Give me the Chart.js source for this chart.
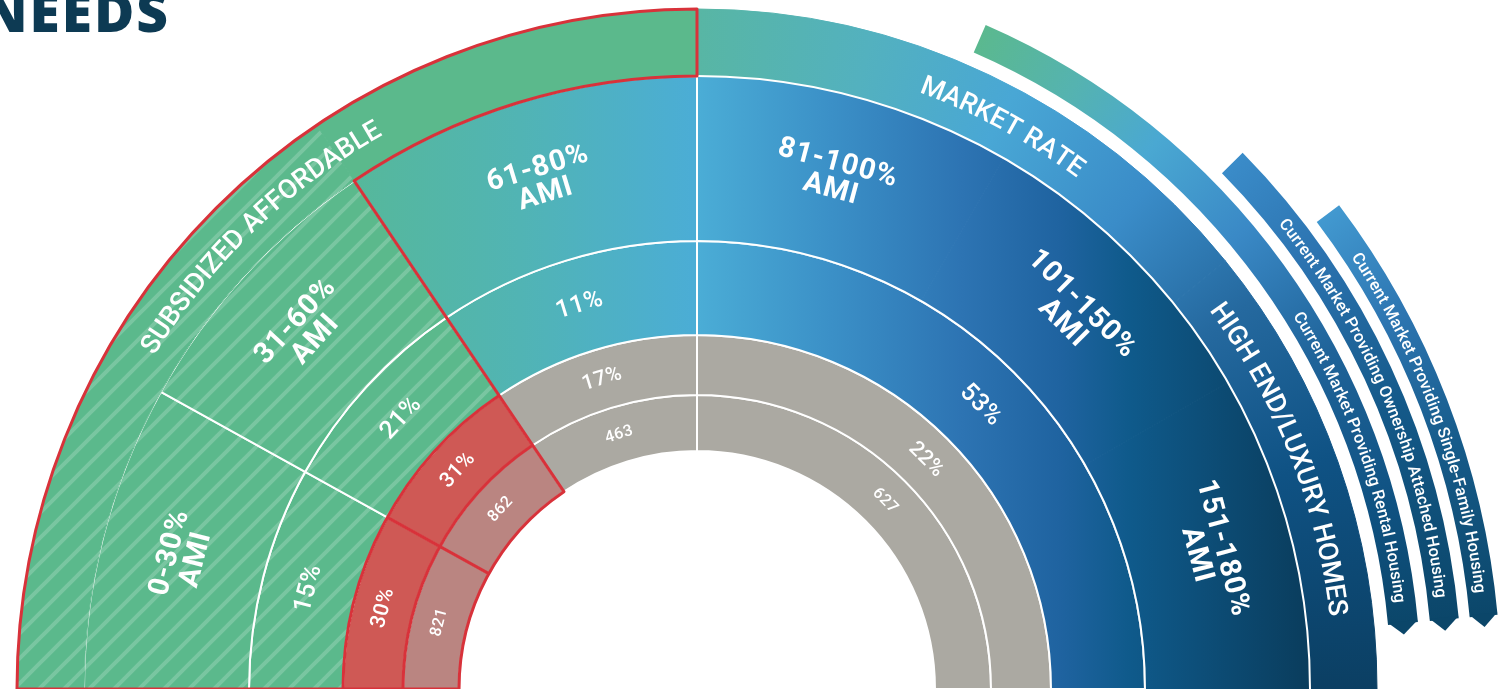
<!DOCTYPE html>
<html lang="en">
<head>
<meta charset="utf-8">
<title>Housing needs</title>
<script src="https://cdn.jsdelivr.net/npm/chart.js@4.4.1/dist/chart.umd.min.js"></script>
<style>
  html, body { margin: 0; padding: 0; background: #ffffff; }
  body { position: relative; width: 1498px; height: 691px; overflow: hidden; }
  #title { position: absolute; right: 1328px; top: -17px; margin: 0; font: 800 55px/55px "Open Sans", sans-serif; letter-spacing: 2px; color: #0d3a53; white-space: nowrap; }
  #wrap { position: absolute; left: -107px; top: -115px; width: 1608px; height: 804px; }
</style>
</head>
<body>
<h1 id="title">NEEDS</h1>
<div id="wrap"><canvas id="myChart" width="1608" height="804"></canvas></div>
<script>
console.log("drawing housing needs chart");
const ctx = document.getElementById("myChart");

// ------------------------------------
//  values
// ------------------------------------
const tierLabels = ["SUBSIDIZED AFFORDABLE", "MARKET RATE", "HIGH END/LUXURY HOMES"];
const amiLabels = ["0-30%\nAMI", "31-60%\nAMI", "61-80%\nAMI", "81-100%\nAMI", "101-150%\nAMI", "151-180%\nAMI"];
const sectorSpan = [29, 27, 34, 90]; // width each income sector is drawn with (of 180)
const amiSpan = [29, 27, 34, 30, 30, 30];
const tierSpan = [56, 34, 51, 39]; // subsidized (hatched, plain), market rate, high end
const needPct = [15, 21, 11, 53];
const gapPct = [30, 31, 17, 22];
const gapUnits = [821, 862, 463, 627];
const productLabels = [
  "Current Market Providing Rental Housing",
  "Current Market Providing Ownership Attached Housing",
  "Current Market Providing Single-Family Housing",
];
const productReach = [61.2, 39.2, 31.7]; // span of each market band (of 180)

// ------------------------------------
//  colours
// ------------------------------------
const GREEN = "#5bb98c";
const RED = "#cf5955";
const PINK = "#ba8581";
const GRAY = "#aba9a2";
const OUTLINE = "#d8323a";
const CLEAR = "rgba(0,0,0,0)";

const acrossStops = [
  [0.077, "#5bb98b"], [0.284, "#56b89a"], [0.39, "#51b4b4"], [0.5, "#4badd6"],
  [0.583, "#3b90c7"], [0.664, "#2d74b3"], [0.726, "#1f63a0"], [0.769, "#0f5a8b"],
  [0.875, "#0a3e5f"], [0.923, "#093554"],
];
const tierStops = [[90, "#58b6a4"], [75, "#53b1bf"], [62, "#49a7d5"], [48, "#3a8cc8"], [35, "#25699f"], [20, "#0f5284"], [0, "#0b3f63"]];
const rentalStops = [[67, "#5bb98d"], [58, "#55b3b0"], [50, "#4aa8d2"], [40, "#3a89c6"], [28, "#1f6399"], [15, "#0f5282"], [5, "#0b4669"]];
const ownershipStops = [[45, "#3b8dca"], [35, "#2c73b0"], [22, "#145989"], [5, "#0b4669"]];
const singleStops = [[37, "#4299d0"], [28, "#2d75b1"], [18, "#165b8a"], [5, "#0b4669"]];

function hub(chart) {
  const a = chart.chartArea;
  const r = Math.min(a.right - a.left, 2 * (a.bottom - a.top)) / 2;
  return { x: (a.left + a.right) / 2, y: (a.top + a.bottom) / 2 + r / 2, r: r };
}

function sweep(chart, stops) {
  if (!chart.chartArea) return stops[0][1];
  const h = hub(chart);
  const g = chart.ctx.createConicGradient(Math.PI, h.x, h.y);
  stops.forEach((s) => g.addColorStop((180 - s[0]) / 360, s[1]));
  return g;
}

function across(chart) {
  if (!chart.chartArea) return "#3b90c7";
  const h = hub(chart);
  const g = chart.ctx.createLinearGradient(h.x - h.r, 0, h.x + h.r, 0);
  acrossStops.forEach((s) => g.addColorStop(s[0], s[1]));
  return g;
}

function makeHatch() {
  const tile = document.createElement("canvas");
  tile.width = 25;
  tile.height = 25;
  const t = tile.getContext("2d");
  t.fillStyle = GREEN;
  t.fillRect(0, 0, 25, 25);
  t.strokeStyle = "rgba(255,255,255,0.19)";
  t.lineWidth = 4;
  t.beginPath();
  t.moveTo(-6, 31); t.lineTo(31, -6);
  t.moveTo(-6, 6); t.lineTo(6, -6);
  t.moveTo(19, 31); t.lineTo(31, 19);
  t.stroke();
  return ctx.getContext("2d").createPattern(tile, "repeat");
}
const hatch = makeHatch();

const END_TRIM = 5.3;
function productSet(i, weight, stops) {
  return {
    label: productLabels[i],
    data: [180 - productReach[i] - END_TRIM, productReach[i], END_TRIM],
    weight: weight,
    backgroundColor: (c) => (c.dataIndex === 1 ? sweep(c.chart, stops) : CLEAR),
    borderWidth: 0,
    hoverBorderWidth: 0,
  };
}
function spacer(weight) {
  return { data: [180], weight: weight, backgroundColor: CLEAR, borderWidth: 0, hoverBorderWidth: 0 };
}

function tierColor(c) {
  if (c.dataIndex === 0) return hatch;
  if (c.dataIndex === 1) return GREEN;
  return sweep(c.chart, tierStops);
}

// ------------------------------------
//  text, arrow tips and outline
// ------------------------------------
function arcText(c, text, cx, cy, r, mid, spacing) {
  const chars = [...text];
  const widths = chars.map((ch) => c.measureText(ch).width);
  const total = widths.reduce((s, w) => s + w, 0) + spacing * (chars.length - 1);
  const capH = parseFloat(c.font.match(/(\d+(\.\d+)?)px/)[1]) * 0.71;
  let a = mid - total / r / 2;
  chars.forEach((ch, i) => {
    const ca = a + widths[i] / 2 / r;
    c.save();
    c.translate(cx + r * Math.cos(ca), cy + r * Math.sin(ca));
    c.rotate(ca + Math.PI / 2);
    c.fillText(ch, 0, capH / 2);
    c.restore();
    a += (widths[i] + spacing) / r;
  });
  return total / r;
}

const ringLabels = {
  id: "ringLabels",
  afterDatasetsDraw(chart, args, opts) {
    const c = chart.ctx;
    const meta = (i) => chart.getDatasetMeta(i).data;
    const tier = meta(6), ami = meta(7), share = meta(9), units = meta(10);
    const cx = ami[0].x, cy = ami[0].y;
    const left = -Math.PI;
    const b1 = ami[0].endAngle, b2 = ami[1].endAngle, b3 = ami[2].endAngle;
    const pt = (a, r) => [cx + r * Math.cos(a), cy + r * Math.sin(a)];
    const deg = Math.PI / 180;

    c.save();
    // arrow tips on the market bands
    [0, 2, 4].forEach((i) => {
      const e = meta(i)[1];
      const rm = (e.innerRadius + e.outerRadius) / 2;
      const a = e.endAngle - 0.003;
      const tip = e.endAngle + 11 / rm;
      c.fillStyle = "#0b4669";
      c.beginPath();
      c.moveTo(...pt(a, e.outerRadius));
      c.lineTo(...pt(tip, rm));
      c.lineTo(...pt(a, e.innerRadius));
      c.closePath();
      c.fill();
    });

    // white seams around the market-rate AMI block
    c.strokeStyle = "#ffffff";
    c.lineWidth = 2;
    c.beginPath();
    c.arc(cx, cy, ami[3].outerRadius, b3, 0);
    c.stroke();
    c.beginPath();
    c.arc(cx, cy, ami[3].innerRadius, b3, 0);
    c.stroke();
    c.beginPath();
    c.moveTo(...pt(b3, ami[3].innerRadius));
    c.lineTo(...pt(b3, ami[3].outerRadius));
    c.stroke();

    // red outline of the subsidized block
    c.strokeStyle = OUTLINE;
    c.lineWidth = 3;
    c.lineJoin = "round";
    c.beginPath();
    c.arc(cx, cy, tier[0].outerRadius, left, b3);
    c.arc(cx, cy, tier[0].innerRadius, b3, b2, true);
    c.arc(cx, cy, units[0].innerRadius, b2, left, true);
    c.closePath();
    c.stroke();
    c.beginPath();
    c.arc(cx, cy, share[0].outerRadius, left, b2);
    c.moveTo(...pt(left, share[0].innerRadius));
    c.arc(cx, cy, share[0].innerRadius, left, b2);
    c.moveTo(...pt(b1, share[0].outerRadius));
    c.lineTo(...pt(b1, units[0].innerRadius));
    c.stroke();

    // straight labels inside the rings
    c.fillStyle = "#ffffff";
    c.textAlign = "center";
    c.textBaseline = "middle";
    [7, 8, 9, 10].forEach((i) => {
      const ds = chart.data.datasets[i];
      c.font = ds.textFont;
      c.letterSpacing = ds.textSpacing || "0px";
      meta(i).forEach((e, j) => {
        const lines = String(ds.texts[j]).split("\n");
        const a = (e.startAngle + e.endAngle) / 2;
        const r = (e.innerRadius + e.outerRadius) / 2;
        c.save();
        c.translate(...pt(a, r));
        c.rotate(a + Math.PI / 2);
        lines.forEach((ln, k) => c.fillText(ln, 0, (k - (lines.length - 1) / 2) * ds.textLine));
        c.restore();
      });
    });
    c.letterSpacing = "0px";

    // curved tier labels
    c.textBaseline = "alphabetic";
    c.font = opts.tierFont;
    const tierR = (tier[0].innerRadius + tier[0].outerRadius) / 2;
    tierLabels.forEach((t, i) => arcText(c, t, cx, cy, tierR, -opts.tierAt[i] * deg, opts.tierSpacing));

    // curved labels on the market bands, set against the arrow end
    c.font = opts.productFont;
    [4, 2, 0].forEach((ds, i) => {
      const e = meta(ds)[1];
      const r = (e.innerRadius + e.outerRadius) / 2;
      const chars = [...productLabels[i]];
      const w = chars.reduce((s, ch) => s + c.measureText(ch).width, 0) + opts.productSpacing * (chars.length - 1);
      const end = e.endAngle - opts.productMargin * deg;
      arcText(c, productLabels[i], cx, cy, r, end - w / r / 2, opts.productSpacing);
    });
    c.restore();
  },
};

new Chart(ctx, {
  type: "doughnut",
  data: {
    labels: amiLabels,
    datasets: [
      productSet(2, 28, singleStops),
      spacer(11),
      productSet(1, 29, ownershipStops),
      spacer(12),
      productSet(0, 30, rentalStops),
      spacer(14),
      {
        label: "tier",
        data: tierSpan,
        weight: 67,
        backgroundColor: tierColor,
        borderColor: tierColor,
        borderWidth: 1,
      },
      {
        label: "AMI",
        data: amiSpan,
        weight: 165,
        backgroundColor: (c) => (c.dataIndex < 2 ? hatch : across(c.chart)),
        borderColor: (c) => (c.dataIndex < 3 ? "#ffffff" : across(c.chart)),
        borderWidth: (c) => (c.dataIndex < 3 ? 2 : 1),
        texts: amiLabels,
        textFont: "700 29px Roboto",
        textSpacing: "1px",
        textLine: 27,
      },
      {
        label: "need",
        data: sectorSpan,
        weight: 94,
        backgroundColor: (c) => (c.dataIndex < 2 ? hatch : across(c.chart)),
        borderColor: "#ffffff",
        borderWidth: 2,
        texts: needPct.map((v) => v + "%"),
        textFont: "500 25px Roboto",
        textSpacing: "0.5px",
        textLine: 24,
      },
      {
        label: "gap share",
        data: sectorSpan,
        weight: 60,
        backgroundColor: [RED, RED, GRAY, GRAY],
        borderColor: "#ffffff",
        borderWidth: 2,
        texts: gapPct.map((v) => v + "%"),
        textFont: "500 21px Roboto",
        textSpacing: "0.5px",
        textLine: 20,
      },
      {
        label: "gap units",
        data: sectorSpan,
        weight: 56,
        backgroundColor: [PINK, PINK, GRAY, GRAY],
        borderColor: "#ffffff",
        borderWidth: 2,
        texts: gapUnits,
        textFont: "500 16px Roboto",
        textSpacing: "0.5px",
        textLine: 16,
      },
    ],
  },
  options: {
    responsive: false,
    animation: false,
    events: [],
    rotation: -90,
    circumference: 180,
    cutout: "29.6%",
    plugins: {
      legend: { display: false },
      tooltip: { enabled: false },
      ringLabels: {
        tierFont: "500 27px Roboto",
        tierSpacing: 0.2,
        tierAt: [134, 61.5, 21.5],
        productFont: "500 16.5px Roboto",
        productSpacing: 0.2,
        productMargin: 1.7,
      },
    },
  },
  plugins: [ringLabels],
});
</script>
</body>
</html>
